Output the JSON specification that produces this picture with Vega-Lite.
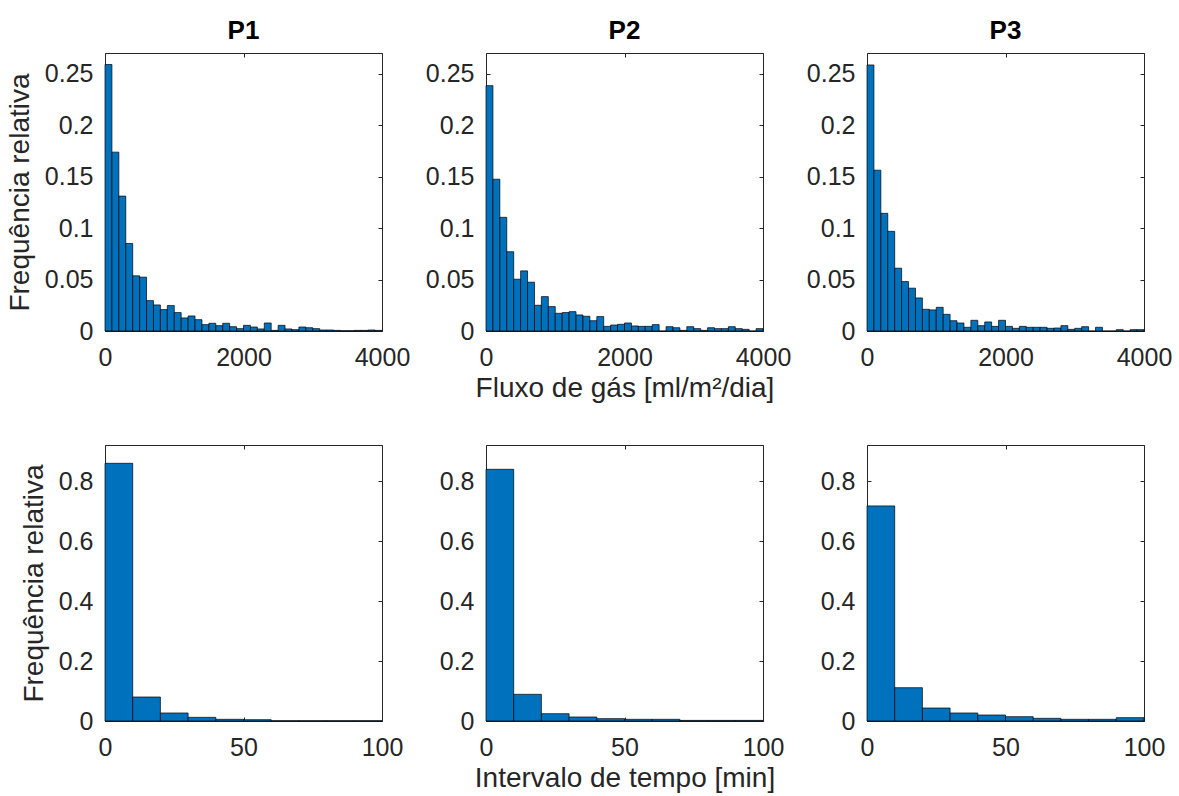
{
  "$schema": "https://vega.github.io/schema/vega-lite/v6.json",
  "padding": {"left": 6, "top": 17, "right": 5, "bottom": 5},
  "background": "white",
  "bounds": "flush",
  "columns": 3,
  "spacing": {"row": 114, "column": 104},
  "config": {
    "font": "Liberation Sans",
    "view": {"stroke": null},
    "axis": {"domainColor": "#262626", "tickColor": "#262626", "labelColor": "#262626", "titleColor": "#262626", "labelFontSize": 25, "titleFontSize": 28, "titleFontWeight": "normal", "tickSize": -4, "grid": false, "labelFont": "Liberation Sans", "titleFont": "Liberation Sans", "domainWidth": 1, "labelFlush": false, "labelOverlap": false, "format": "~r"},
    "axisX": {"labelPadding": 18},
    "axisY": {"labelPadding": 16},
    "title": {"fontSize": 26, "fontWeight": "bold", "color": "black", "offset": 9, "font": "Liberation Sans"}
  },
  "datasets": {
    "flux": [
      {"p":"P1","lo":0,"hi":100,"f":0.2588},{"p":"P1","lo":100,"hi":200,"f":0.1737},{"p":"P1","lo":200,"hi":300,"f":0.131},{"p":"P1","lo":300,"hi":400,"f":0.085},{"p":"P1","lo":400,"hi":500,"f":0.0536},{"p":"P1","lo":500,"hi":600,"f":0.0523},{"p":"P1","lo":600,"hi":700,"f":0.0295},{"p":"P1","lo":700,"hi":800,"f":0.0253},{"p":"P1","lo":800,"hi":900,"f":0.0208},{"p":"P1","lo":900,"hi":1000,"f":0.0247},
      {"p":"P1","lo":1000,"hi":1100,"f":0.0179},{"p":"P1","lo":1100,"hi":1200,"f":0.0127},{"p":"P1","lo":1200,"hi":1300,"f":0.0146},{"p":"P1","lo":1300,"hi":1400,"f":0.011},{"p":"P1","lo":1400,"hi":1500,"f":0.0062},{"p":"P1","lo":1500,"hi":1600,"f":0.0075},{"p":"P1","lo":1600,"hi":1700,"f":0.0052},{"p":"P1","lo":1700,"hi":1800,"f":0.0075},{"p":"P1","lo":1800,"hi":1900,"f":0.0042},{"p":"P1","lo":1900,"hi":2000,"f":0.0023},
      {"p":"P1","lo":2000,"hi":2100,"f":0.0055},{"p":"P1","lo":2100,"hi":2200,"f":0.0039},{"p":"P1","lo":2200,"hi":2300,"f":0.002},{"p":"P1","lo":2300,"hi":2400,"f":0.0078},{"p":"P1","lo":2400,"hi":2500,"f":0.0006},{"p":"P1","lo":2500,"hi":2600,"f":0.0055},{"p":"P1","lo":2600,"hi":2700,"f":0.002},{"p":"P1","lo":2700,"hi":2800,"f":0.0013},{"p":"P1","lo":2800,"hi":2900,"f":0.0039},{"p":"P1","lo":2900,"hi":3000,"f":0.0032},
      {"p":"P1","lo":3000,"hi":3100,"f":0.0023},{"p":"P1","lo":3100,"hi":3200,"f":0.001},{"p":"P1","lo":3200,"hi":3300,"f":0.001},{"p":"P1","lo":3300,"hi":3400,"f":0.0006},{"p":"P1","lo":3400,"hi":3500,"f":0.0003},{"p":"P1","lo":3500,"hi":3600,"f":0.0003},{"p":"P1","lo":3600,"hi":3700,"f":0.0006},{"p":"P1","lo":3700,"hi":3800,"f":0.0006},{"p":"P1","lo":3800,"hi":3900,"f":0.001},{"p":"P1","lo":3900,"hi":4000,"f":0.0006},
      {"p":"P2","lo":0,"hi":100,"f":0.2383},{"p":"P2","lo":100,"hi":200,"f":0.1474},{"p":"P2","lo":200,"hi":300,"f":0.1104},{"p":"P2","lo":300,"hi":400,"f":0.077},{"p":"P2","lo":400,"hi":500,"f":0.0503},{"p":"P2","lo":500,"hi":600,"f":0.0584},{"p":"P2","lo":600,"hi":700,"f":0.0474},{"p":"P2","lo":700,"hi":800,"f":0.025},{"p":"P2","lo":800,"hi":900,"f":0.0334},{"p":"P2","lo":900,"hi":1000,"f":0.0237},
      {"p":"P2","lo":1000,"hi":1100,"f":0.0172},{"p":"P2","lo":1100,"hi":1200,"f":0.0179},{"p":"P2","lo":1200,"hi":1300,"f":0.0188},{"p":"P2","lo":1300,"hi":1400,"f":0.0156},{"p":"P2","lo":1400,"hi":1500,"f":0.0143},{"p":"P2","lo":1500,"hi":1600,"f":0.01},{"p":"P2","lo":1600,"hi":1700,"f":0.014},{"p":"P2","lo":1700,"hi":1800,"f":0.0045},{"p":"P2","lo":1800,"hi":1900,"f":0.0058},{"p":"P2","lo":1900,"hi":2000,"f":0.0065},
      {"p":"P2","lo":2000,"hi":2100,"f":0.0078},{"p":"P2","lo":2100,"hi":2200,"f":0.0049},{"p":"P2","lo":2200,"hi":2300,"f":0.0045},{"p":"P2","lo":2300,"hi":2400,"f":0.0045},{"p":"P2","lo":2400,"hi":2500,"f":0.0062},{"p":"P2","lo":2500,"hi":2600,"f":0},{"p":"P2","lo":2600,"hi":2700,"f":0.0042},{"p":"P2","lo":2700,"hi":2800,"f":0.0032},{"p":"P2","lo":2800,"hi":2900,"f":0.0006},{"p":"P2","lo":2900,"hi":3000,"f":0.0042},
      {"p":"P2","lo":3000,"hi":3100,"f":0.0023},{"p":"P2","lo":3100,"hi":3200,"f":0.0006},{"p":"P2","lo":3200,"hi":3300,"f":0.0032},{"p":"P2","lo":3300,"hi":3400,"f":0.0023},{"p":"P2","lo":3400,"hi":3500,"f":0.0023},{"p":"P2","lo":3500,"hi":3600,"f":0.0042},{"p":"P2","lo":3600,"hi":3700,"f":0.0023},{"p":"P2","lo":3700,"hi":3800,"f":0.0016},{"p":"P2","lo":3800,"hi":3900,"f":0},{"p":"P2","lo":3900,"hi":4000,"f":0.0023},
      {"p":"P3","lo":0,"hi":100,"f":0.2584},{"p":"P3","lo":100,"hi":200,"f":0.1562},{"p":"P3","lo":200,"hi":300,"f":0.1143},{"p":"P3","lo":300,"hi":400,"f":0.0968},{"p":"P3","lo":400,"hi":500,"f":0.061},{"p":"P3","lo":500,"hi":600,"f":0.048},{"p":"P3","lo":600,"hi":700,"f":0.0416},{"p":"P3","lo":700,"hi":800,"f":0.0321},{"p":"P3","lo":800,"hi":900,"f":0.0211},{"p":"P3","lo":900,"hi":1000,"f":0.0205},
      {"p":"P3","lo":1000,"hi":1100,"f":0.023},{"p":"P3","lo":1100,"hi":1200,"f":0.0162},{"p":"P3","lo":1200,"hi":1300,"f":0.01},{"p":"P3","lo":1300,"hi":1400,"f":0.0078},{"p":"P3","lo":1400,"hi":1500,"f":0.0036},{"p":"P3","lo":1500,"hi":1600,"f":0.0104},{"p":"P3","lo":1600,"hi":1700,"f":0.0052},{"p":"P3","lo":1700,"hi":1800,"f":0.0088},{"p":"P3","lo":1800,"hi":1900,"f":0.0045},{"p":"P3","lo":1900,"hi":2000,"f":0.0104},
      {"p":"P3","lo":2000,"hi":2100,"f":0.0045},{"p":"P3","lo":2100,"hi":2200,"f":0.0026},{"p":"P3","lo":2200,"hi":2300,"f":0.0045},{"p":"P3","lo":2300,"hi":2400,"f":0.0036},{"p":"P3","lo":2400,"hi":2500,"f":0.0036},{"p":"P3","lo":2500,"hi":2600,"f":0.0036},{"p":"P3","lo":2600,"hi":2700,"f":0.0026},{"p":"P3","lo":2700,"hi":2800,"f":0.0029},{"p":"P3","lo":2800,"hi":2900,"f":0.0052},{"p":"P3","lo":2900,"hi":3000,"f":0.0016},
      {"p":"P3","lo":3000,"hi":3100,"f":0.0026},{"p":"P3","lo":3100,"hi":3200,"f":0.0042},{"p":"P3","lo":3200,"hi":3300,"f":0},{"p":"P3","lo":3300,"hi":3400,"f":0.0036},{"p":"P3","lo":3400,"hi":3500,"f":0},{"p":"P3","lo":3500,"hi":3600,"f":0},{"p":"P3","lo":3600,"hi":3700,"f":0.0013},{"p":"P3","lo":3700,"hi":3800,"f":0},{"p":"P3","lo":3800,"hi":3900,"f":0.0013},{"p":"P3","lo":3900,"hi":4000,"f":0.0013}
    ],
    "interval": [
      {"p":"P1","lo":0,"hi":10,"f":0.859},{"p":"P1","lo":10,"hi":20,"f":0.08},{"p":"P1","lo":20,"hi":30,"f":0.0267},{"p":"P1","lo":30,"hi":40,"f":0.0122},{"p":"P1","lo":40,"hi":50,"f":0.0056},{"p":"P1","lo":50,"hi":60,"f":0.0044},{"p":"P1","lo":60,"hi":70,"f":0.001},{"p":"P1","lo":70,"hi":80,"f":0.001},{"p":"P1","lo":80,"hi":90,"f":0.001},{"p":"P1","lo":90,"hi":100,"f":0.001},
      {"p":"P2","lo":0,"hi":10,"f":0.839},{"p":"P2","lo":10,"hi":20,"f":0.0889},{"p":"P2","lo":20,"hi":30,"f":0.0244},{"p":"P2","lo":30,"hi":40,"f":0.0133},{"p":"P2","lo":40,"hi":50,"f":0.0078},{"p":"P2","lo":50,"hi":60,"f":0.0056},{"p":"P2","lo":60,"hi":70,"f":0.0056},{"p":"P2","lo":70,"hi":80,"f":0.002},{"p":"P2","lo":80,"hi":90,"f":0.002},{"p":"P2","lo":90,"hi":100,"f":0.002},
      {"p":"P3","lo":0,"hi":10,"f":0.717},{"p":"P3","lo":10,"hi":20,"f":0.111},{"p":"P3","lo":20,"hi":30,"f":0.0433},{"p":"P3","lo":30,"hi":40,"f":0.0267},{"p":"P3","lo":40,"hi":50,"f":0.02},{"p":"P3","lo":50,"hi":60,"f":0.0144},{"p":"P3","lo":60,"hi":70,"f":0.0089},{"p":"P3","lo":70,"hi":80,"f":0.0056},{"p":"P3","lo":80,"hi":90,"f":0.0056},{"p":"P3","lo":90,"hi":100,"f":0.0111}
    ]
  },
  "concat": [
    {
      "width": 277, "height": 278, "title": "P1",
      "data": {"name": "flux"},
      "transform": [{"filter": "datum.p === 'P1'"}],
      "layer": [
        {"mark": {"type": "bar", "fill": "#0072BD", "stroke": "#000000", "strokeWidth": 0.7},
         "encoding": {
           "x": {"field": "lo", "type": "quantitative", "scale": {"domain": [0, 4000], "nice": false}, "axis": {"values": [0, 2000, 4000], "title": null}},
           "x2": {"field": "hi"},
           "y": {"field": "f", "type": "quantitative", "scale": {"domain": [0, 0.27], "nice": false}, "axis": {"values": [0, 0.05, 0.1, 0.15, 0.2, 0.25], "title": "Frequência relativa", "titlePadding": 10}},
           "y2": {"datum": 0}}},
        {"mark": {"type": "bar", "opacity": 0},
         "encoding": {
           "x": {"field": "lo", "type": "quantitative", "axis": {"orient": "top", "values": [0, 2000, 4000], "labels": false, "title": null}},
           "x2": {"field": "hi"},
           "y": {"field": "f", "type": "quantitative", "axis": {"orient": "right", "values": [0, 0.05, 0.1, 0.15, 0.2, 0.25], "labels": false, "title": null}},
           "y2": {"datum": 0}}}
      ],
      "resolve": {"axis": {"x": "independent", "y": "independent"}}
    },
    {
      "width": 277, "height": 278, "title": "P2",
      "data": {"name": "flux"},
      "transform": [{"filter": "datum.p === 'P2'"}],
      "layer": [
        {"mark": {"type": "bar", "fill": "#0072BD", "stroke": "#000000", "strokeWidth": 0.7},
         "encoding": {
           "x": {"field": "lo", "type": "quantitative", "scale": {"domain": [0, 4000], "nice": false}, "axis": {"values": [0, 2000, 4000], "title": "Fluxo de gás [ml/m²/dia]", "titlePadding": 4}},
           "x2": {"field": "hi"},
           "y": {"field": "f", "type": "quantitative", "scale": {"domain": [0, 0.27], "nice": false}, "axis": {"values": [0, 0.05, 0.1, 0.15, 0.2, 0.25], "title": null}},
           "y2": {"datum": 0}}},
        {"mark": {"type": "bar", "opacity": 0},
         "encoding": {
           "x": {"field": "lo", "type": "quantitative", "axis": {"orient": "top", "values": [0, 2000, 4000], "labels": false, "title": null}},
           "x2": {"field": "hi"},
           "y": {"field": "f", "type": "quantitative", "axis": {"orient": "right", "values": [0, 0.05, 0.1, 0.15, 0.2, 0.25], "labels": false, "title": null}},
           "y2": {"datum": 0}}}
      ],
      "resolve": {"axis": {"x": "independent", "y": "independent"}}
    },
    {
      "width": 277, "height": 278, "title": "P3",
      "data": {"name": "flux"},
      "transform": [{"filter": "datum.p === 'P3'"}],
      "layer": [
        {"mark": {"type": "bar", "fill": "#0072BD", "stroke": "#000000", "strokeWidth": 0.7},
         "encoding": {
           "x": {"field": "lo", "type": "quantitative", "scale": {"domain": [0, 4000], "nice": false}, "axis": {"values": [0, 2000, 4000], "title": null}},
           "x2": {"field": "hi"},
           "y": {"field": "f", "type": "quantitative", "scale": {"domain": [0, 0.27], "nice": false}, "axis": {"values": [0, 0.05, 0.1, 0.15, 0.2, 0.25], "title": null}},
           "y2": {"datum": 0}}},
        {"mark": {"type": "bar", "opacity": 0},
         "encoding": {
           "x": {"field": "lo", "type": "quantitative", "axis": {"orient": "top", "values": [0, 2000, 4000], "labels": false, "title": null}},
           "x2": {"field": "hi"},
           "y": {"field": "f", "type": "quantitative", "axis": {"orient": "right", "values": [0, 0.05, 0.1, 0.15, 0.2, 0.25], "labels": false, "title": null}},
           "y2": {"datum": 0}}}
      ],
      "resolve": {"axis": {"x": "independent", "y": "independent"}}
    },
    {
      "width": 277, "height": 276,
      "data": {"name": "interval"},
      "transform": [{"filter": "datum.p === 'P1'"}],
      "layer": [
        {"mark": {"type": "bar", "fill": "#0072BD", "stroke": "#000000", "strokeWidth": 0.7},
         "encoding": {
           "x": {"field": "lo", "type": "quantitative", "scale": {"domain": [0, 100], "nice": false}, "axis": {"values": [0, 50, 100], "title": null}},
           "x2": {"field": "hi"},
           "y": {"field": "f", "type": "quantitative", "scale": {"domain": [0, 0.92], "nice": false}, "axis": {"values": [0, 0.2, 0.4, 0.6, 0.8], "title": "Frequência relativa", "titlePadding": 10}},
           "y2": {"datum": 0}}},
        {"mark": {"type": "bar", "opacity": 0},
         "encoding": {
           "x": {"field": "lo", "type": "quantitative", "axis": {"orient": "top", "values": [0, 50, 100], "labels": false, "title": null}},
           "x2": {"field": "hi"},
           "y": {"field": "f", "type": "quantitative", "axis": {"orient": "right", "values": [0, 0.2, 0.4, 0.6, 0.8], "labels": false, "title": null}},
           "y2": {"datum": 0}}}
      ],
      "resolve": {"axis": {"x": "independent", "y": "independent"}}
    },
    {
      "width": 277, "height": 276,
      "data": {"name": "interval"},
      "transform": [{"filter": "datum.p === 'P2'"}],
      "layer": [
        {"mark": {"type": "bar", "fill": "#0072BD", "stroke": "#000000", "strokeWidth": 0.7},
         "encoding": {
           "x": {"field": "lo", "type": "quantitative", "scale": {"domain": [0, 100], "nice": false}, "axis": {"values": [0, 50, 100], "title": "Intervalo de tempo [min]", "titlePadding": 4}},
           "x2": {"field": "hi"},
           "y": {"field": "f", "type": "quantitative", "scale": {"domain": [0, 0.92], "nice": false}, "axis": {"values": [0, 0.2, 0.4, 0.6, 0.8], "title": null}},
           "y2": {"datum": 0}}},
        {"mark": {"type": "bar", "opacity": 0},
         "encoding": {
           "x": {"field": "lo", "type": "quantitative", "axis": {"orient": "top", "values": [0, 50, 100], "labels": false, "title": null}},
           "x2": {"field": "hi"},
           "y": {"field": "f", "type": "quantitative", "axis": {"orient": "right", "values": [0, 0.2, 0.4, 0.6, 0.8], "labels": false, "title": null}},
           "y2": {"datum": 0}}}
      ],
      "resolve": {"axis": {"x": "independent", "y": "independent"}}
    },
    {
      "width": 277, "height": 276,
      "data": {"name": "interval"},
      "transform": [{"filter": "datum.p === 'P3'"}],
      "layer": [
        {"mark": {"type": "bar", "fill": "#0072BD", "stroke": "#000000", "strokeWidth": 0.7},
         "encoding": {
           "x": {"field": "lo", "type": "quantitative", "scale": {"domain": [0, 100], "nice": false}, "axis": {"values": [0, 50, 100], "title": null}},
           "x2": {"field": "hi"},
           "y": {"field": "f", "type": "quantitative", "scale": {"domain": [0, 0.92], "nice": false}, "axis": {"values": [0, 0.2, 0.4, 0.6, 0.8], "title": null}},
           "y2": {"datum": 0}}},
        {"mark": {"type": "bar", "opacity": 0},
         "encoding": {
           "x": {"field": "lo", "type": "quantitative", "axis": {"orient": "top", "values": [0, 50, 100], "labels": false, "title": null}},
           "x2": {"field": "hi"},
           "y": {"field": "f", "type": "quantitative", "axis": {"orient": "right", "values": [0, 0.2, 0.4, 0.6, 0.8], "labels": false, "title": null}},
           "y2": {"datum": 0}}}
      ],
      "resolve": {"axis": {"x": "independent", "y": "independent"}}
    }
  ]
}
